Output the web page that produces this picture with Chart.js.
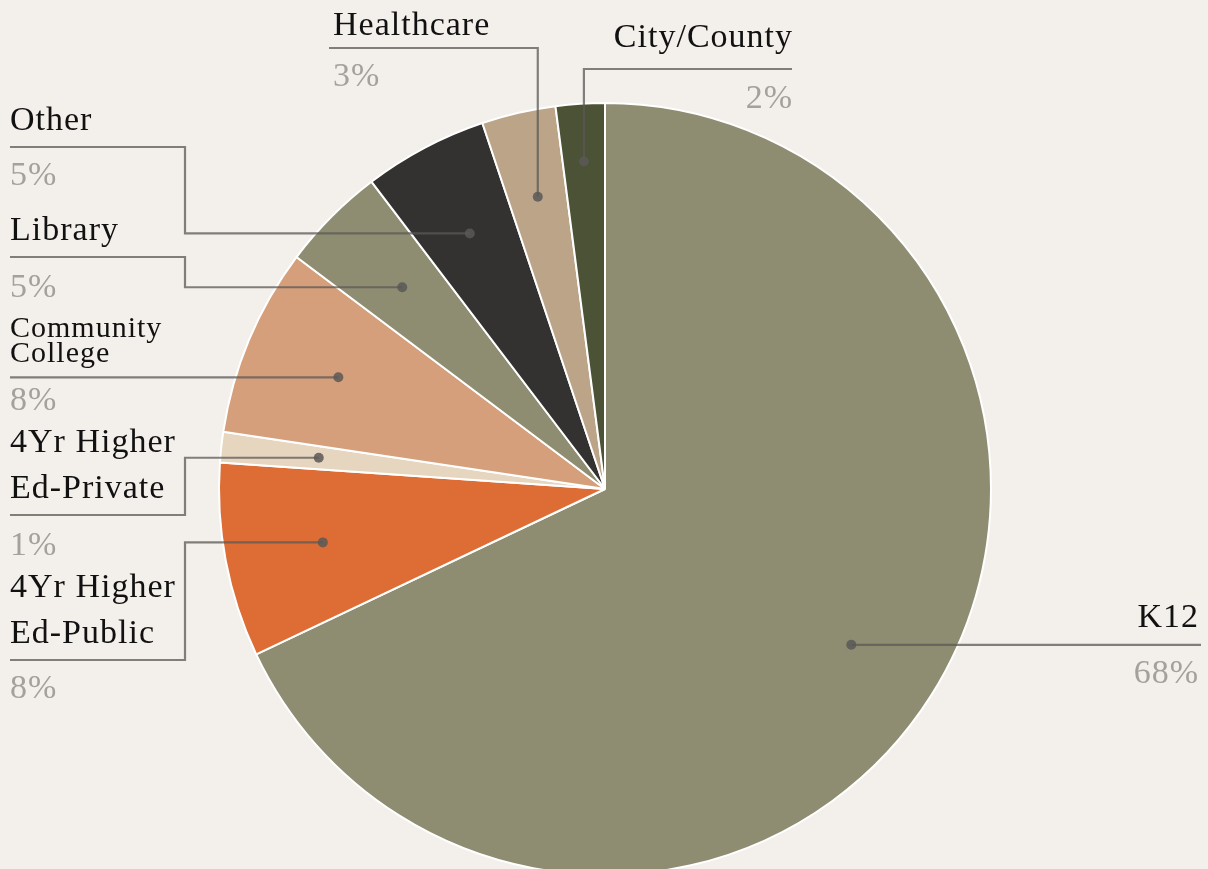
<!DOCTYPE html>
<html>
<head>
<meta charset="utf-8">
<script src="https://cdn.jsdelivr.net/npm/chart.js@4.4.1/dist/chart.umd.min.js"></script>
<style>
  html, body { margin: 0; padding: 0; background: #f3efeb; overflow: hidden; }
  #wrap { position: relative; width: 1208px; height: 869px; overflow: hidden; }
  #chart { position: absolute; left: 0; top: 0; }
</style>
</head>
<body>
<div id="wrap">
  <canvas id="chart" width="1208" height="978"></canvas>
</div>
<script>
// dati
const categories = ["K12", "4Yr Higher Ed-Public", "4Yr Higher Ed-Private", "Community College", "Library", "Other", "Healthcare", "City/County"];
const shares = [68.0, 8.15, 1.27, 7.9, 4.4, 5.2, 3.1, 2.05];
const pctLabels = ["68%", "8%", "1%", "8%", "5%", "5%", "3%", "2%"];
const nameLines = [["K12"], ["4Yr Higher", "Ed-Public"], ["4Yr Higher", "Ed-Private"], ["Community", "College"], ["Library"], ["Other"], ["Healthcare"], ["City/County"]];
const sliceColors = ["#8e8d72", "#dd6d35", "#e7d6bf", "#d69f7b", "#8e8d72", "#333231", "#bca489", "#4b5235"];

// posizione delle etichette (solo annotazioni)
const labelLayout = [
    { type: "h", r: 0.755, ex: 1201, tx: 1198, align: "right", names: [-18], pct: 38 },
    { type: "elbow", r: 0.744, kx: 185, ey: 660, ex: 10, tx: 10, align: "left", names: [-63, -17], pct: 38 },
    { type: "elbow", r: 0.746, kx: 185, ey: 515, ex: 10, tx: 10, align: "left", names: [-63, -17], pct: 40 },
    { type: "h", r: 0.749, ex: 10, tx: 10, align: "left", names: [-40, -15], pct: 33, size: 30 },
    { type: "elbow", r: 0.741, kx: 185, ey: 257, ex: 10, tx: 10, align: "left", names: [-17], pct: 40 },
    { type: "elbow", r: 0.749, kx: 185, ey: 147, ex: 10, tx: 10, align: "left", names: [-17], pct: 38 },
    { type: "up", r: 0.777, ey: 48, ex: 329, tx: 333, align: "left", names: [-13], pct: 38 },
    { type: "up", r: 0.85, ey: 69, ex: 792, tx: 792, align: "right", names: [-22], pct: 39 }
];

const leaderLabels = {
    id: "leaderLabels",
    afterDatasetsDraw(chart) {
        const ctx = chart.ctx;
        const arcs = chart.getDatasetMeta(0).data;
        arcs.forEach((arc, i) => {
            const L = labelLayout[i];
            const mid = (arc.startAngle + arc.endAngle) / 2;
            const dx = arc.x + Math.cos(mid) * arc.outerRadius * L.r;
            const dy = arc.y + Math.sin(mid) * arc.outerRadius * L.r;

            ctx.save();
            ctx.strokeStyle = "rgba(90, 88, 86, 0.75)";
            ctx.lineWidth = 2.2;
            ctx.beginPath();
            ctx.moveTo(dx, dy);
            let lineY;
            if (L.type === "h") {
                ctx.lineTo(L.ex, dy);
                lineY = dy;
            } else if (L.type === "elbow") {
                ctx.lineTo(L.kx, dy);
                ctx.lineTo(L.kx, L.ey);
                ctx.lineTo(L.ex, L.ey);
                lineY = L.ey;
            } else {
                ctx.lineTo(dx, L.ey);
                ctx.lineTo(L.ex, L.ey);
                lineY = L.ey;
            }
            ctx.stroke();

            ctx.fillStyle = "rgba(90, 88, 86, 0.85)";
            ctx.beginPath();
            ctx.arc(dx, dy, 5, 0, Math.PI * 2);
            ctx.fill();

            ctx.textAlign = L.align;
            ctx.textBaseline = "alphabetic";
            ctx.letterSpacing = "1px";
            ctx.fillStyle = "#111111";
            ctx.font = (L.size || 34) + "px 'Liberation Serif', 'DejaVu Serif', serif";
            const shift = L.align === "right" ? 1 : 0;
            nameLines[i].forEach((txt, k) => {
                ctx.fillText(txt, L.tx + shift, lineY + L.names[k]);
            });
            ctx.fillStyle = "#a4a19d";
            ctx.font = "34px 'Liberation Serif', 'DejaVu Serif', serif";
            ctx.fillText(pctLabels[i], L.tx + shift, lineY + L.pct);
            ctx.restore();
        });
    }
};

new Chart(document.getElementById("chart"), {
    type: "pie",
    data: {
        labels: categories,
        datasets: [{
            data: shares,
            backgroundColor: sliceColors,
            borderColor: "#ffffff",
            borderWidth: 2
        }]
    },
    options: {
        responsive: false,
        animation: false,
        radius: 386,
        layout: { padding: { top: 102, bottom: 102, left: 217, right: 215 } },
        plugins: {
            legend: { display: false },
            tooltip: { enabled: false }
        }
    },
    plugins: [leaderLabels]
});
</script>
</body>
</html>
